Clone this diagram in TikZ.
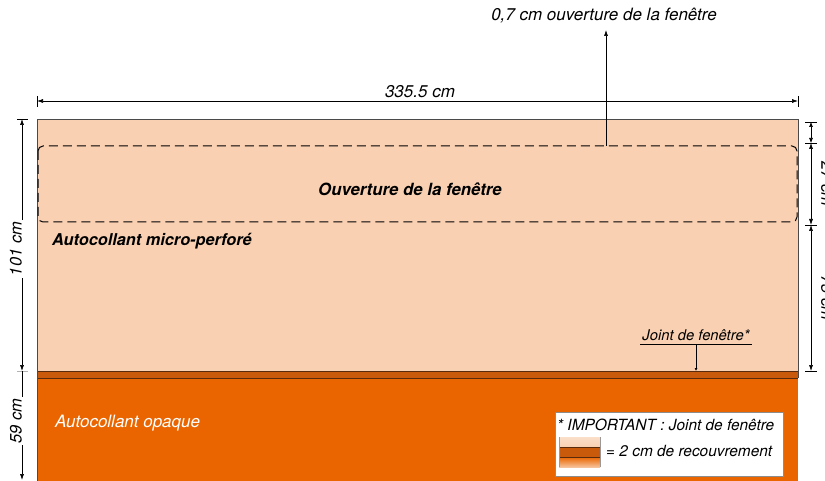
\documentclass[tikz,border=0pt]{standalone}
\usepackage{fontspec}
\setmainfont{TeX Gyre Heros}
\usetikzlibrary{arrows.meta}
\definecolor{peach}{HTML}{F9D1B2}
\definecolor{orng}{HTML}{EA6500}
\definecolor{joint}{HTML}{C95A0C}
\definecolor{jointline}{HTML}{5A2A0C}
\definecolor{frame}{HTML}{4A4A4A}
\begin{document}
\begin{tikzpicture}[x=1pt,y=-1pt,
  font=\fontsize{17}{19}\selectfont\itshape,
  tip/.tip={Latex[length=6pt,width=4pt]},
  dim/.style={line width=0.6pt,tip-tip},
  onearrow/.style={line width=0.6pt,-tip},
  tick/.style={line width=0.6pt},
  lbl/.style={inner sep=1pt},
  boldlbl/.style={inner sep=1pt,font=\fontsize{16.8}{19}\selectfont\bfseries\itshape}]
\useasboundingbox (0,0) rectangle (825,481);
% panels
\fill[orng] (37,378) rectangle (798,481);
\fill[peach] (37,119) rectangle (798,371);
\fill[joint] (37,371) rectangle (798,378);
\draw[jointline,line width=0.9pt] (37,371) -- (798,371) (37,378) -- (798,378);
\draw[frame,line width=0.8pt] (37,481) -- (37,119) -- (798,119) -- (798,378);
% window opening
\draw[black,line width=1pt,dash pattern=on 9pt off 5pt,rounded corners=5pt] (38,146) rectangle (797,222);
\node[boldlbl] (ouv) at (410,189) {Ouverture de la fenêtre};
\node[lbl,font=\fontsize{16.3}{18}\selectfont\bfseries\itshape,anchor=west] (micro) at (51,241) {Autocollant micro-perforé};
\node[lbl,text=white,anchor=west] (opaque) at (54,423) {Autocollant opaque};
% top dimension
\coordinate (tl) at (37,101); \coordinate (tr) at (798,101);
\draw[tick] (37,96) -- (37,107) (798,96) -- (798,107);
\draw[dim] (tl) -- (tr);
\node[lbl] (w) at (420,92) {335.5 cm};
% 0,7 cm arrow
\coordinate (o1) at (606,146);
\node[lbl] (o7) at (604,16) {0,7 cm ouverture de la fenêtre};
\draw[onearrow] (o1) -- (606,30);
% left dimensions
\coordinate (l1) at (22,119); \coordinate (l2) at (22,371); \coordinate (l3) at (22,480);
\draw[tick] (17,119) -- (28,119);
\draw[tick,black!30] (17,371) -- (28,371);
\draw[dim] (l1) -- (l2);
\draw[onearrow] (l2) -- (l3);
\node[lbl,rotate=90,fill=white,inner sep=2pt,font=\fontsize{16.5}{18}\selectfont\itshape] (h101) at (16,249) {101 cm};
\node[lbl,rotate=90,fill=white,inner sep=2pt,font=\fontsize{16.5}{18}\selectfont\itshape] (h59) at (16,421) {59 cm};
% right dimensions
\coordinate (r1) at (811,122); \coordinate (r2) at (811,143);
\coordinate (r3) at (811,225); \coordinate (r4) at (811,371);
\draw[tick] (805,122) -- (817,122) (805,143) -- (817,143) (805,225) -- (817,225) (805,371) -- (817,371);
\draw[line width=0.6pt,{Latex[length=5pt,width=4pt]}-{Latex[length=5pt,width=4pt]}] (r1) -- (r2);
\draw[dim] (r2) -- (r3);
\draw[dim] (r3) -- (r4);
\node[lbl,rotate=-90,font=\fontsize{16.5}{18}\selectfont\itshape] (h27) at (827,184) {27 cm};
\node[lbl,rotate=-90,font=\fontsize{16.5}{18}\selectfont\itshape] (h73) at (827,298) {73 cm};
% joint label
\node[lbl,font=\fontsize{14.8}{16}\selectfont\itshape] (jl) at (696,335) {Joint de fenêtre*};
\draw[line width=0.6pt] (640,344) -- (752,344);
\coordinate (j1) at (696,344); \coordinate (j2) at (696,371);
\draw[line width=0.6pt,-{Latex[length=3pt,width=3pt]}] (j1) -- (j2);
% legend
\node[draw=black!45,fill=white,line width=0.6pt,minimum width=228pt,minimum height=64pt,anchor=north west,inner sep=0pt] (legend) at (555,412) {};
\node[lbl,anchor=west,font=\fontsize{15.4}{17}\selectfont\itshape] (imp) at (556,425) {* IMPORTANT : Joint de fenêtre};
\shade[top color=peach!70!white,bottom color=peach] (559,437) rectangle (600,447);
\shade[top color=orng,middle color=orng,bottom color=orng!40!white] (559,457) rectangle (600,467);
\fill[joint] (559,447) rectangle (600,457);
\draw[jointline,line width=0.7pt] (559,447) -- (600,447) (559,457) -- (600,457);
\draw[black!40,line width=0.5pt] (559,437) -- (559,467) (600,437) -- (600,467);
\node[lbl,anchor=west,font=\fontsize{15.4}{17}\selectfont\itshape] (rec) at (605,451) {= 2 cm de recouvrement};
\end{tikzpicture}
\end{document}
